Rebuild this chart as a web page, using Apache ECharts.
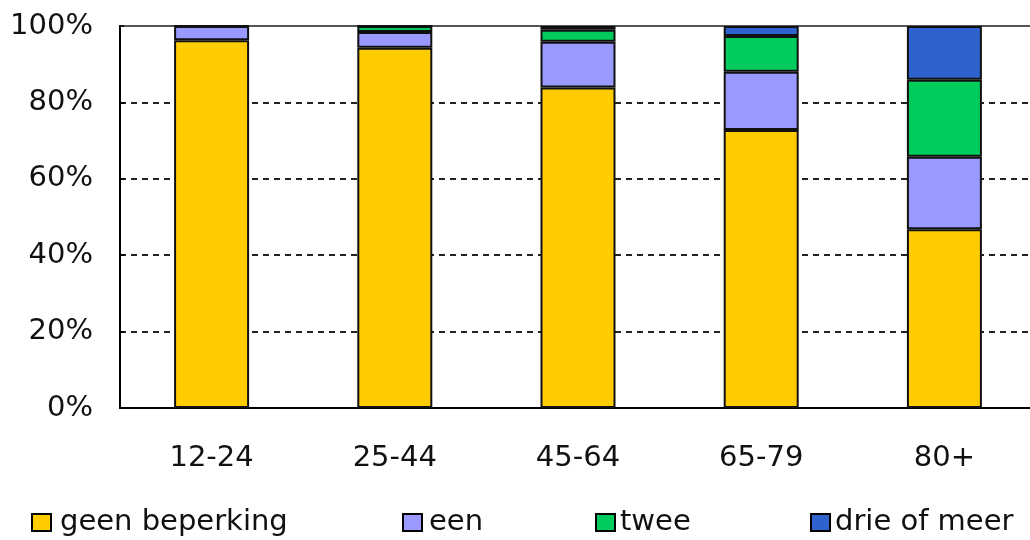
<!DOCTYPE html>
<html>
<head>
<meta charset="utf-8">
<script src="https://cdn.jsdelivr.net/npm/echarts@6/dist/echarts.min.js"></script>
<style>
  html, body { margin: 0; padding: 0; background: #fff; overflow: hidden; }
  /* the plot area runs slightly past the right edge of the window */
  #chart { width: 1045px; height: 540px; }
</style>
</head>
<body>
<div id="chart"></div>
<script>
// Age groups on the x axis
const ageGroups = ['12-24', '25-44', '45-64', '65-79', '80+'];

// Share (%) of each age group by number of limitations
const geenBeperking = [96.3, 94.3, 83.9, 72.8, 46.8];
const een = [3.7, 4.1, 12.0, 15.2, 19.0];
const twee = [0, 1.6, 3.1, 9.4, 20.1];
const drieOfMeer = [0, 0, 1.0, 2.6, 14.1];

const seriesNames = ['geen beperking', 'een', 'twee', 'drie of meer'];
const seriesValues = [geenBeperking, een, twee, drieOfMeer];
const seriesColors = ['#FFCC00', '#9999FF', '#00CC5E', '#2E62CD'];

// y-axis tick values, shown with a percent sign
const yTicks = [0, 20, 40, 60, 80, 100];

const FONT = '"DejaVu Sans", Verdana, sans-serif';
const legendLeft = [31, 402, 595, 810];
const legendTextPad = [4, 2, 0, 0];

const chart = echarts.init(document.getElementById('chart'), null, { renderer: 'canvas' });

chart.setOption({
  animation: false,
  backgroundColor: '#ffffff',
  textStyle: { fontFamily: FONT, color: '#000' },
  grid: {
    left: 120, top: 26, width: 916, height: 382,
    show: true, borderColor: '#555', borderWidth: 2, backgroundColor: 'transparent'
  },
  legend: seriesNames.map((name, i) => ({
    data: [{ name: name, icon: 'rect' }],
    left: legendLeft[i],
    top: 508,
    itemWidth: 19,
    itemHeight: 17,
    itemGap: 0,
    padding: 0,
    selectedMode: false,
    itemStyle: { borderColor: '#000', borderWidth: 2 },
    textStyle: { fontFamily: FONT, fontSize: 29, color: '#111', padding: [0, 0, 0, legendTextPad[i]] }
  })),
  xAxis: {
    type: 'category',
    data: ageGroups,
    axisLine: { lineStyle: { color: '#000', width: 2 } },
    axisTick: { show: false },
    axisLabel: { fontFamily: FONT, fontSize: 29, color: '#111', margin: 36 }
  },
  yAxis: {
    type: 'value',
    min: yTicks[0],
    max: yTicks[yTicks.length - 1],
    interval: yTicks[1] - yTicks[0],
    axisLine: { show: true, lineStyle: { color: '#000', width: 2 } },
    axisTick: { show: true, inside: true, length: 4, lineStyle: { color: '#000', width: 1.5 } },
    axisLabel: { fontFamily: FONT, fontSize: 29, color: '#111', margin: 27, formatter: '{value}%' },
    splitLine: {
      show: true,
      showMaxLine: false,
      lineStyle: { color: '#222', width: 2, type: [6, 5] }
    }
  },
  series: seriesNames.map((name, i) => ({
    name: name,
    type: 'bar',
    stack: 'total',
    barWidth: 75,
    data: seriesValues[i],
    itemStyle: { color: seriesColors[i], borderColor: '#111', borderWidth: 2 }
  }))
});
</script>
</body>
</html>
